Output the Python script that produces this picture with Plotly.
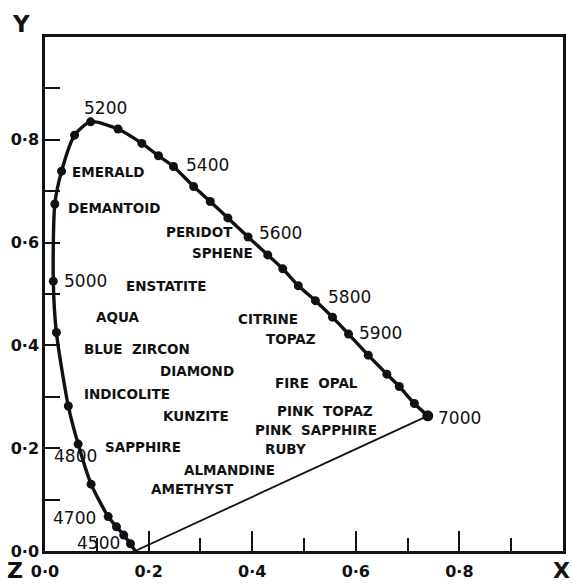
import plotly.graph_objects as go

# Spectral locus (chromaticity x, y) traced from the blue end round to the red end
locus_x = [0.174, 0.165, 0.152, 0.138, 0.122, 0.089, 0.064, 0.045, 0.022, 0.016,
           0.019, 0.032, 0.057, 0.088, 0.141, 0.187, 0.219, 0.248, 0.287, 0.319,
           0.353, 0.392, 0.430, 0.459, 0.489, 0.522, 0.555, 0.586, 0.624, 0.660,
           0.684, 0.713, 0.739]
locus_y = [0.000, 0.014, 0.031, 0.047, 0.067, 0.130, 0.208, 0.282, 0.425, 0.525,
           0.675, 0.739, 0.809, 0.835, 0.821, 0.793, 0.769, 0.748, 0.709, 0.680,
           0.648, 0.611, 0.576, 0.549, 0.516, 0.487, 0.455, 0.422, 0.381, 0.344,
           0.320, 0.287, 0.263]

# Wavelength labels (Angstrom) and where they sit
wl_text = ["5200", "5400", "5600", "5800", "5900", "7000", "5000", "4800", "4700", "4500"]
wl_x = [0.117, 0.314, 0.455, 0.587, 0.647, 0.801, 0.079, 0.059, 0.057, 0.103]
wl_y = [0.862, 0.751, 0.619, 0.494, 0.424, 0.259, 0.525, 0.185, 0.064, 0.016]

# Gemstone colour positions
gem_names = ["EMERALD", "DEMANTOID", "PERIDOT", "SPHENE", "ENSTATITE", "AQUA",
             "CITRINE", "TOPAZ", "BLUE ZIRCON", "DIAMOND", "FIRE OPAL", "INDICOLITE",
             "PINK TOPAZ", "KUNZITE", "PINK SAPPHIRE", "SAPPHIRE", "RUBY",
             "ALMANDINE", "AMETHYST"]
gem_x = [0.1225, 0.134, 0.299, 0.342, 0.234, 0.140, 0.431, 0.475, 0.178, 0.293,
         0.524, 0.158, 0.540, 0.291, 0.523, 0.189, 0.464, 0.357, 0.284]
gem_y = [0.737, 0.667, 0.621, 0.580, 0.516, 0.455, 0.451, 0.412, 0.393, 0.350,
         0.327, 0.305, 0.272, 0.263, 0.235, 0.202, 0.198, 0.158, 0.121]

tick_vals = [0.0, 0.2, 0.4, 0.6, 0.8]
tick_text = ["0·0", "0·2", "0·4", "0·6", "0·8"]

INK = "#111111"
FONT = "DejaVu Sans"

fig = go.Figure()

# Line of purples: from the blue end of the locus to the red end
fig.add_trace(go.Scatter(
    x=[locus_x[0], locus_x[-1]], y=[locus_y[0], locus_y[-1]],
    mode="lines", line=dict(color=INK, width=1.8),
    hoverinfo="skip", showlegend=False))

# Spectral locus with wavelength dots
fig.add_trace(go.Scatter(
    x=locus_x, y=locus_y, mode="lines+markers",
    line=dict(color=INK, width=3.4, shape="spline", smoothing=0.7),
    marker=dict(color=INK, size=[0] + [9] * (len(locus_x) - 2) + [11],
                line=dict(width=0), opacity=1),
    hoverinfo="skip", showlegend=False))

annotations = []
for t, x, y in zip(wl_text, wl_x, wl_y):
    annotations.append(dict(x=x, y=y, text=t, showarrow=False,
                            font=dict(family=FONT, size=17, color=INK)))
for t, x, y in zip(gem_names, gem_x, gem_y):
    label = t.replace(" ", "\u00a0\u00a0")
    annotations.append(dict(x=x, y=y, text="<b>" + label + "</b>", showarrow=False,
                            font=dict(family=FONT, size=13.5, color=INK)))

# Axis letters, placed in paper coordinates just outside the frame
annotations.append(dict(x=-0.046, y=1.025, xref="paper", yref="paper",
                        xanchor="center", yanchor="middle",
                        text="<b>Y</b>", showarrow=False,
                        font=dict(family=FONT, size=23, color=INK)))
for t, x in [("Z", -0.058), ("X", 0.997)]:
    annotations.append(dict(x=x, y=-0.066, xref="paper", yref="paper",
                            xanchor="center", yanchor="bottom",
                            text="<b>" + t + "</b>", showarrow=False,
                            font=dict(family=FONT, size=22, color=INK)))

axis_common = dict(
    range=[0, 1], showgrid=False, zeroline=False, automargin=False,
    showline=True, linecolor=INK, linewidth=2.5, mirror=True,
    ticks="inside", tickcolor=INK, tickwidth=1.5,
    tickmode="array", tickvals=tick_vals, ticktext=["<b>" + s + "</b>" for s in tick_text],
    tickfont=dict(family=FONT, size=16, color=INK),
)

fig.update_layout(
    width=573, height=585,
    margin=dict(l=45, r=10, t=37, b=34),
    paper_bgcolor="white", plot_bgcolor="white",
    xaxis=dict(**axis_common, ticklen=20, ticklabelstandoff=4,
               minor=dict(tickvals=[0.1, 0.3, 0.5, 0.7, 0.9], ticks="inside",
                          ticklen=13, tickwidth=1.5, tickcolor=INK)),
    yaxis=dict(**axis_common, ticklen=15,
               minor=dict(tickvals=[0.1, 0.3, 0.5, 0.7, 0.9], ticks="inside",
                          ticklen=15, tickwidth=1.5, tickcolor=INK)),
    annotations=annotations,
)

fig.write_html("out.html")
